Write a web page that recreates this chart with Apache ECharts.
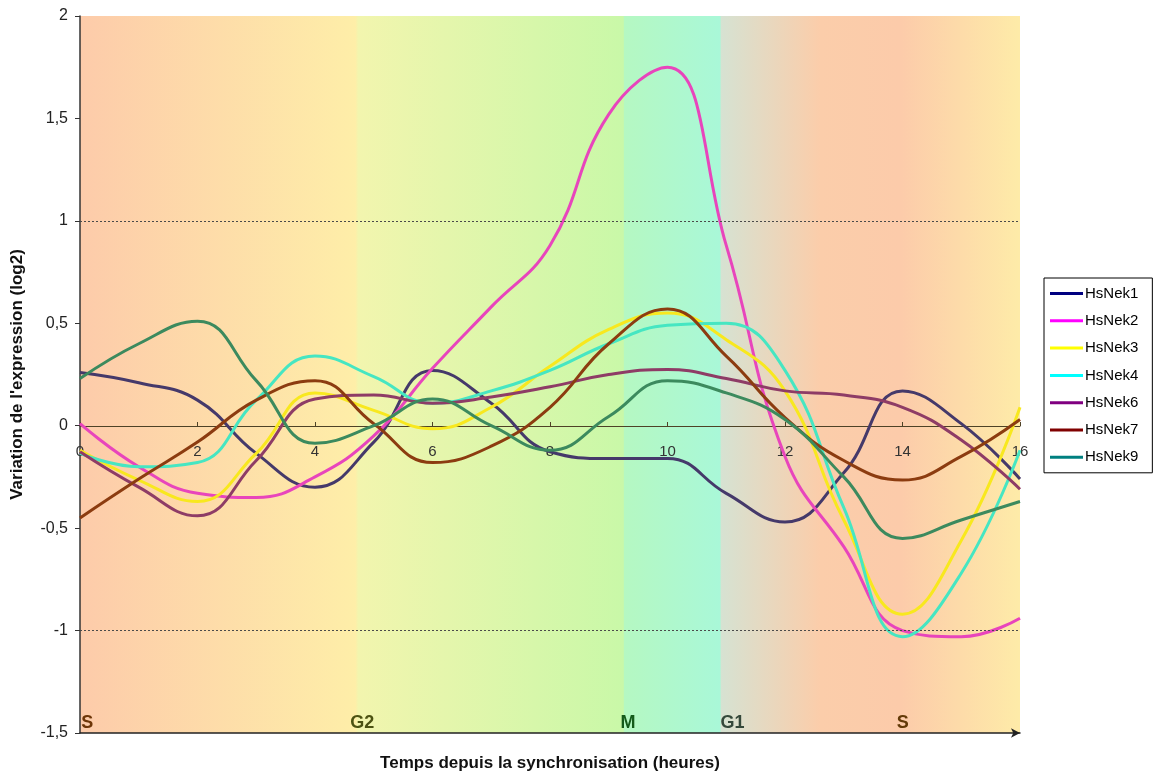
<!DOCTYPE html>
<html>
<head>
<meta charset="utf-8">
<script src="https://cdn.jsdelivr.net/npm/echarts@6/dist/echarts.min.js"></script>
<style>
  html, body { margin: 0; padding: 0; background: #fff; }
  #chart { width: 1153px; height: 773px; }
</style>
</head>
<body>
<div id="chart"></div>
<script>
// heures depuis la synchronisation
const hours = [0, 1, 2, 3, 4, 5, 6, 7, 8, 9, 10, 11, 12, 13, 14, 15, 16]
const hsNek1 = [0.26, 0.21, 0.125, -0.135, -0.30, -0.08, 0.27, 0.11, -0.127, -0.16, -0.16, -0.33, -0.47, -0.23, 0.17, 0.01, -0.26]
const hsNek2 = [0.01, -0.20, -0.33, -0.35, -0.25, -0.05, 0.28, 0.58, 0.88, 1.52, 1.75, 0.88, -0.15, -0.59, -1.0, -1.03, -0.94]
const hsNek3 = [-0.12, -0.265, -0.37, -0.135, 0.16, 0.075, -0.015, 0.09, 0.29, 0.47, 0.55, 0.42, 0.17, -0.46, -0.92, -0.56, 0.09]
const hsNek4 = [-0.135, -0.20, -0.18, 0.125, 0.34, 0.24, 0.11, 0.17, 0.27, 0.40, 0.49, 0.50, 0.27, -0.40, -1.03, -0.72, -0.12]
const hsNek6 = [-0.127, -0.30, -0.44, -0.17, 0.13, 0.15, 0.11, 0.14, 0.19, 0.25, 0.275, 0.23, 0.17, 0.15, 0.09, -0.07, -0.31]
const hsNek7 = [-0.45, -0.26, -0.08, 0.125, 0.22, 0.01, -0.18, -0.10, 0.09, 0.40, 0.57, 0.34, 0.04, -0.17, -0.265, -0.15, 0.03]
const hsNek9 = [0.23, 0.40, 0.51, 0.22, -0.086, 0.0, 0.13, 0.0, -0.12, 0.045, 0.22, 0.16, 0.03, -0.25, -0.55, -0.46, -0.37]
const seriesNames = ["HsNek1", "HsNek2", "HsNek3", "HsNek4", "HsNek6", "HsNek7", "HsNek9"]
const seriesValues = [hsNek1, hsNek2, hsNek3, hsNek4, hsNek6, hsNek7, hsNek9]
// phases du cycle cellulaire
const phaseNames = ["S", "G2", "M", "G1", "S"]
const phaseStart = [0.02, 4.6, 9.2, 10.9, 13.9]

// couleurs vues dans le tracé / couleurs de la légende
const lineColors = ["#45396a", "#e845bc", "#f8e81e", "#46e6c2", "#8e3c66", "#8c3c10", "#3c8a5e"]
const legendColors = ["#000080", "#ff00ff", "#ffff00", "#00ffff", "#800080", "#800000", "#008080"]
const phaseColors = ["#6e3608", "#4c5212", "#145a1a", "#34483a", "#633a08"]

const chart = echarts.init(document.getElementById("chart"), null, { renderer: "canvas" })
const comma = (v) => String(v).replace(".", ",")

const bg = new echarts.graphic.LinearGradient(0, 0, 1, 0, [
  { offset: 0, color: "#fdcbaa" },
  { offset: 0.293, color: "#feeea8" },
  { offset: 0.296, color: "#f2f5ae" },
  { offset: 0.578, color: "#c9f8a8" },
  { offset: 0.579, color: "#b5f8c2" },
  { offset: 0.681, color: "#a9f8d8" },
  { offset: 0.682, color: "#d6e2d2" },
  { offset: 0.787, color: "#fbcdaa" },
  { offset: 0.872, color: "#fccbaa" },
  { offset: 1, color: "#feeba8" }
])

const lines = seriesNames.map((name, i) => ({
  name: name,
  type: "line",
  smooth: 0.45,
  symbol: "none",
  color: legendColors[i],
  lineStyle: { color: lineColors[i], width: 3 },
  data: hours.map((h, k) => [h, seriesValues[i][k]]),
  z: 3
}))
lines[0].markLine = {
  silent: true,
  symbol: "none",
  label: { show: false },
  lineStyle: { color: "#4a4a4a", type: [2, 2], width: 1 },
  data: [ { yAxis: 1 }, { yAxis: -1 } ]
}

let option = {
  animation: false,
  backgroundColor: "#fff",
  textStyle: { fontFamily: "\"Liberation Sans\", Arial, sans-serif" },
  grid: {
    left: 80,
    top: 16,
    width: 940,
    height: 717,
    outerBoundsMode: "none",
    containLabel: false,
    show: true,
    borderWidth: 0,
    backgroundColor: bg
  },
  legend: {
    orient: "vertical",
    left: 1044,
    top: 278,
    padding: [8, 14, 8, 6],
    borderColor: "#000",
    borderWidth: 1,
    icon: "rect",
    itemWidth: 33,
    itemHeight: 3,
    itemGap: 12.3,
    textStyle: { fontSize: 15, lineHeight: 14, color: "#000", padding: [0, 0, 0, -3] },
    data: seriesNames.map((name, i) => ({
      name: name,
      itemStyle: { color: legendColors[i], opacity: 1, borderWidth: 0 }
    }))
  },
  xAxis: [
    {
      type: "value",
      min: 0,
      max: 16,
      interval: 2,
      position: "bottom",
      offset: -307,
      axisLine: { onZero: false, lineStyle: { color: "#4e4226", width: 1 } },
      axisTick: { inside: true, length: 4, lineStyle: { color: "#4e4226" } },
      axisLabel: { fontSize: 15, color: "#333", margin: 18 },
      splitLine: { show: false }
    },
    {
      type: "value",
      position: "bottom",
      min: 0,
      max: 16,
      axisLine: {
        onZero: false,
        symbol: ["none", "arrow"],
        symbolSize: [7, 9],
        lineStyle: { color: "#222", width: 1.5 }
      },
      axisTick: { show: false },
      axisLabel: { show: false },
      splitLine: { show: false },
      name: "Temps depuis la synchronisation (heures)",
      nameLocation: "middle",
      nameGap: 22,
      nameTextStyle: { fontSize: 17, fontWeight: "bold", color: "#111" }
    }
  ],
  yAxis: {
    type: "value",
    min: -1.5,
    max: 2,
    interval: 0.5,
    axisLine: { show: true, onZero: false, lineStyle: { color: "#333", width: 1.5 } },
    axisTick: { show: true, length: 5, lineStyle: { color: "#333" } },
    axisLabel: { fontSize: 16, color: "#222", margin: 12, formatter: comma },
    splitLine: { show: false },
    name: "Variation de l'expression (log2)",
    nameLocation: "middle",
    nameGap: 54,
    nameTextStyle: { fontSize: 17, fontWeight: "bold", color: "#111" }
  },
  series: lines.concat([
    {
      name: "phases",
      type: "scatter",
      symbolSize: 0,
      silent: true,
      z: 4,
      itemStyle: { opacity: 1 },
      data: phaseNames.map((p, i) => ({
        value: [phaseStart[i], -1.5],
        label: {
          show: true,
          formatter: p,
          position: [0, -19],
          fontSize: 18,
          fontWeight: "bold",
          opacity: 1,
          color: phaseColors[i]
        }
      }))
    }
  ])
}
chart.setOption(option)
</script>
</body>
</html>
